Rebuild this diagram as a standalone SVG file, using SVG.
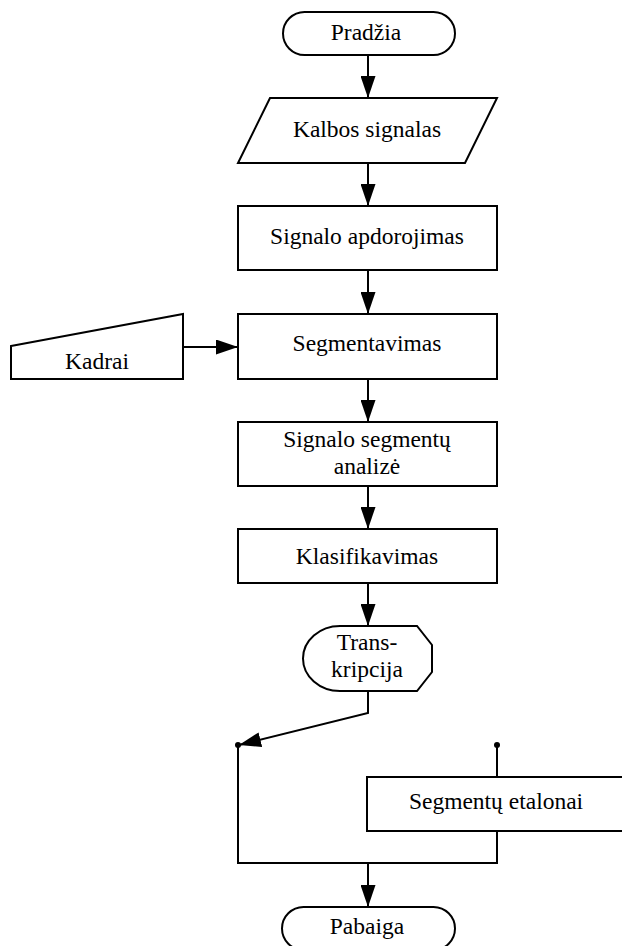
<svg xmlns="http://www.w3.org/2000/svg" width="622" height="946" viewBox="0 0 622 946">
  <style>
    .shape { fill: #ffffff; stroke: #000000; stroke-width: 2; }
    .wire { fill: none; stroke: #000000; stroke-width: 2; }
    .label { font-family: "Liberation Serif", "Times New Roman", serif; font-size: 23.5px; fill: #000000; text-anchor: middle; }
  </style>
  <defs>
    <marker id="arrow" markerUnits="userSpaceOnUse" markerWidth="22" markerHeight="15" viewBox="0 0 22 15" refX="22" refY="7.5" orient="auto">
      <path d="M0,0 L22,7.5 L0,15 Z" fill="#000000"/>
    </marker>
  </defs>
  <rect width="622" height="946" fill="#ffffff"/>

  <!-- connectors -->
  <g id="connectors">
    <line class="wire" x1="368" y1="55" x2="368" y2="98" marker-end="url(#arrow)"/>
    <line class="wire" x1="368" y1="163" x2="368" y2="206" marker-end="url(#arrow)"/>
    <line class="wire" x1="368" y1="270" x2="368" y2="314" marker-end="url(#arrow)"/>
    <line class="wire" x1="183" y1="347" x2="238" y2="347" marker-end="url(#arrow)"/>
    <line class="wire" x1="368" y1="379" x2="368" y2="422" marker-end="url(#arrow)"/>
    <line class="wire" x1="368" y1="486" x2="368" y2="529" marker-end="url(#arrow)"/>
    <line class="wire" x1="368" y1="583" x2="368" y2="626" marker-end="url(#arrow)"/>
    <polyline class="wire" points="368,691 368,713 239,745" marker-end="url(#arrow)"/>
    <polyline class="wire" points="238,745 238,863 497,863 497,831"/>
    <line class="wire" x1="497" y1="777" x2="497" y2="745"/>
    <circle cx="238" cy="745" r="3" fill="#000000"/>
    <circle cx="497" cy="745" r="3" fill="#000000"/>
    <line class="wire" x1="368" y1="863" x2="368" y2="907" marker-end="url(#arrow)"/>
  </g>

  <g id="start">
    <rect class="shape" x="283" y="12" width="172" height="43" rx="21.5"/>
    <text class="label" x="366" y="40">Pradžia</text>
  </g>

  <g id="speech-signal">
    <polygon class="shape" points="270,98 497,98 465,163 238,163"/>
    <text class="label" x="367" y="137">Kalbos signalas</text>
  </g>

  <g id="signal-processing">
    <rect class="shape" x="238" y="206" width="259" height="64"/>
    <text class="label" x="367" y="244">Signalo apdorojimas</text>
  </g>

  <g id="frames">
    <polygon class="shape" points="11,346 183,314 183,379 11,379"/>
    <text class="label" x="97" y="369">Kadrai</text>
  </g>

  <g id="segmentation">
    <rect class="shape" x="238" y="314" width="259" height="65"/>
    <text class="label" x="367" y="351">Segmentavimas</text>
  </g>

  <g id="segment-analysis">
    <rect class="shape" x="238" y="422" width="259" height="64"/>
    <text class="label" x="367" y="447">Signalo segmentų</text>
    <text class="label" x="367" y="474">analizė</text>
  </g>

  <g id="classification">
    <rect class="shape" x="238" y="529" width="259" height="54"/>
    <text class="label" x="367" y="564">Klasifikavimas</text>
  </g>

  <g id="transcription">
    <path class="shape" d="M340,626 L417,626 L432,645 L432,672 L417,691 L340,691 A37,32.5 0 0 1 303,658.5 A37,32.5 0 0 1 340,626 Z"/>
    <text class="label" x="367" y="650">Trans-</text>
    <text class="label" x="367" y="677">kripcija</text>
  </g>

  <g id="segment-templates">
    <rect class="shape" x="367" y="777" width="270" height="54"/>
    <text class="label" x="496" y="809">Segmentų etalonai</text>
  </g>

  <g id="end">
    <rect class="shape" x="282" y="907" width="173" height="43" rx="21.5"/>
    <text class="label" x="367" y="934">Pabaiga</text>
  </g>
</svg>
